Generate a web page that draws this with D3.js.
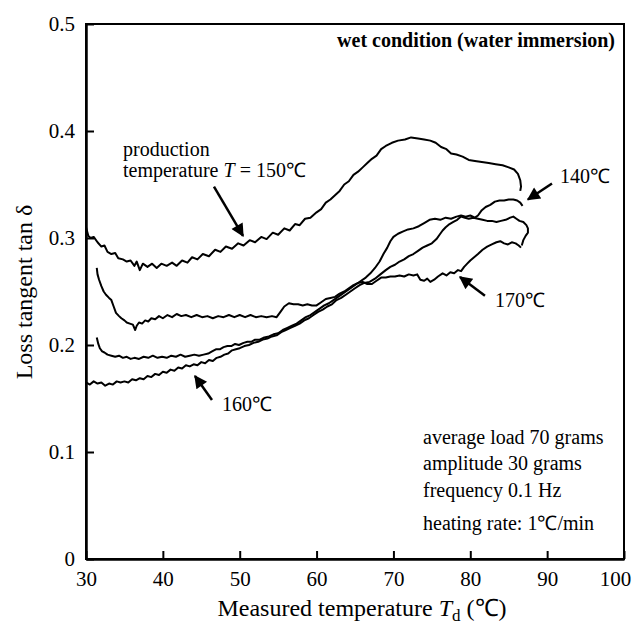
<!DOCTYPE html>
<html>
<head>
<meta charset="utf-8">
<script src="https://cdn.jsdelivr.net/npm/d3@7"></script>
<style>
  body { margin: 0; background: #fff; }
  text { font-family: "Liberation Serif", "Times New Roman", serif; fill: #000; }
</style>
</head>
<body>
<script>
// tick values and labels
var xTicks = [30, 40, 50, 60, 70, 80, 90, 100];
var yTicks = [0, 0.1, 0.2, 0.3, 0.4, 0.5];
var yTickLabels = ["0", "0.1", "0.2", "0.3", "0.4", "0.5"];

// curves: [temperature, tan delta]
var curve150 = [[30.0,0.310],[30.3,0.302],[30.6,0.300],[31.0,0.301],[31.5,0.296],[32.0,0.292],[32.4,0.293],[32.8,0.287],
  [33.3,0.285],[33.8,0.286],[34.2,0.281],[34.8,0.280],[35.3,0.278],[35.8,0.279],[36.3,0.274],[36.6,0.278],[37.0,0.270],
  [37.4,0.276],[38.0,0.273],[38.6,0.276],[39.2,0.272],[39.8,0.276],[40.5,0.274],[41.2,0.277],[41.8,0.274],[42.5,0.279],
  [43.2,0.277],[43.8,0.282],[44.5,0.280],[45.2,0.285],[46.0,0.283],[46.8,0.289],[47.5,0.287],[48.2,0.292],[49.0,0.290],
  [49.8,0.295],[50.5,0.293],[51.3,0.298],[52.0,0.296],[52.8,0.301],[53.5,0.299],[54.3,0.305],[55.0,0.303],[55.8,0.309],
  [56.5,0.307],[57.2,0.313],[57.8,0.312],[58.5,0.318],[59.2,0.319],[60.0,0.324],[60.6,0.327],[61.2,0.333],[61.8,0.336],
  [62.4,0.340],[63.0,0.344],[63.6,0.350],[64.2,0.353],[64.8,0.359],[65.4,0.362],[66.0,0.366],[66.6,0.370],[67.2,0.374],
  [67.8,0.377],[68.4,0.383],[69.0,0.386],[69.8,0.389],[70.6,0.391],[71.5,0.392],[72.3,0.394],[73.2,0.393],[74.0,0.392],
  [74.8,0.391],[75.5,0.389],[76.2,0.385],[76.9,0.383],[77.5,0.379],[78.2,0.378],[79.0,0.376],[79.8,0.373],[80.6,0.372],
  [81.5,0.371],[82.4,0.370],[83.3,0.369],[84.2,0.368],[85.0,0.366],[85.7,0.364],[86.2,0.360],[86.5,0.354],[86.6,0.348],
  [86.5,0.344]];

var curve140 = [[31.4,0.207],[31.6,0.201],[31.8,0.197],[32.1,0.194],[32.4,0.193],[32.8,0.191],[33.3,0.190],[33.8,0.189],
  [34.3,0.190],[34.8,0.188],[35.3,0.189],[35.8,0.187],[36.3,0.188],[36.9,0.187],[37.5,0.189],[38.1,0.188],[38.7,0.190],
  [39.3,0.188],[39.9,0.189],[40.5,0.188],[41.1,0.190],[41.7,0.189],[42.3,0.191],[42.9,0.189],[43.5,0.190],[44.1,0.191],
  [44.7,0.190],[45.3,0.191],[45.9,0.192],[46.4,0.194],[46.9,0.196],[47.4,0.196],[47.9,0.198],[48.4,0.199],[48.9,0.199],
  [49.4,0.201],[49.9,0.200],[50.5,0.202],[51.0,0.203],[51.5,0.203],[52.0,0.205],[52.6,0.205],[53.2,0.207],[53.8,0.208],
  [54.4,0.210],[55.0,0.211],[55.6,0.214],[56.2,0.216],[56.8,0.218],[57.4,0.220],[58.0,0.223],[58.6,0.226],[59.2,0.228],
  [59.8,0.231],[60.4,0.234],[61.0,0.237],[61.6,0.239],[62.2,0.242],[62.8,0.245],[63.4,0.248],[64.0,0.251],[64.6,0.254],
  [65.2,0.257],[65.8,0.260],[66.4,0.263],[67.0,0.267],[67.6,0.272],[68.2,0.278],[68.7,0.285],[69.2,0.291],[69.6,0.297],
  [70.0,0.301],[70.6,0.304],[71.2,0.306],[71.9,0.308],[72.6,0.309],[73.3,0.311],[74.0,0.314],[74.7,0.317],[75.4,0.318],
  [76.1,0.317],[76.8,0.319],[77.5,0.318],[78.2,0.320],[78.8,0.321],[79.4,0.320],[80.0,0.321],[80.6,0.319],[81.0,0.321],
  [81.5,0.326],[82.0,0.329],[82.6,0.331],[83.2,0.334],[83.8,0.335],[84.4,0.335],[85.0,0.336],[85.6,0.336],[86.1,0.335],
  [86.5,0.333],[86.8,0.330]];

var curve160 = [[30.0,0.165],[30.5,0.163],[31.0,0.166],[31.5,0.164],[32.0,0.165],[32.5,0.162],[33.0,0.164],[33.5,0.163],
  [34.0,0.166],[34.5,0.165],[35.0,0.166],[35.5,0.165],[36.0,0.168],[36.5,0.167],[37.0,0.169],[37.5,0.168],[38.0,0.171],
  [38.5,0.170],[39.0,0.173],[39.5,0.172],[40.0,0.175],[40.5,0.174],[41.0,0.177],[41.5,0.176],[42.0,0.179],[42.5,0.178],
  [43.0,0.181],[43.5,0.180],[44.0,0.182],[44.5,0.181],[45.0,0.184],[45.5,0.183],[46.0,0.186],[46.5,0.185],[47.0,0.188],
  [47.5,0.189],[48.0,0.191],[48.5,0.192],[49.0,0.195],[49.5,0.196],[50.0,0.197],[50.6,0.199],[51.2,0.200],[51.8,0.202],
  [52.4,0.203],[53.0,0.205],[53.6,0.206],[54.2,0.208],[54.8,0.209],[55.4,0.212],[56.0,0.214],[56.6,0.216],[57.2,0.218],
  [57.8,0.220],[58.4,0.223],[59.0,0.225],[59.6,0.228],[60.2,0.231],[60.8,0.233],[61.4,0.236],[62.0,0.238],[62.6,0.242],
  [63.2,0.244],[63.8,0.247],[64.4,0.250],[65.0,0.253],[65.6,0.256],[66.2,0.258],[66.9,0.259],[67.6,0.262],[68.3,0.266],
  [69.0,0.270],[69.6,0.273],[70.2,0.275],[70.8,0.278],[71.4,0.280],[72.0,0.283],[72.6,0.285],[73.2,0.288],[73.8,0.291],
  [74.4,0.293],[75.0,0.295],[75.6,0.299],[76.0,0.303],[76.4,0.307],[76.8,0.310],[77.3,0.313],[77.8,0.315],[78.3,0.317],
  [78.8,0.320],[79.3,0.319],[79.8,0.318],[80.4,0.319],[81.0,0.318],[81.6,0.317],[82.2,0.316],[82.8,0.316],[83.4,0.315],
  [84.0,0.316],[84.6,0.317],[85.2,0.319],[85.6,0.320],[86.0,0.318],[86.4,0.316],[86.9,0.315],[87.3,0.312],[87.5,0.309],
  [87.5,0.305],[87.2,0.302],[86.9,0.298],[86.7,0.293]];

var curve170 = [[31.4,0.272],[31.5,0.266],[31.7,0.261],[32.0,0.255],[32.3,0.250],[32.6,0.247],[33.0,0.244],[33.3,0.242],
  [33.6,0.236],[33.9,0.230],[34.3,0.227],[34.6,0.225],[35.0,0.223],[35.3,0.221],[35.7,0.220],[36.1,0.219],[36.4,0.214],
  [36.6,0.218],[36.9,0.221],[37.3,0.220],[37.7,0.223],[38.1,0.222],[38.5,0.225],[39.0,0.224],[39.5,0.227],[40.0,0.225],
  [40.6,0.228],[41.2,0.226],[41.8,0.229],[42.4,0.227],[43.0,0.228],[43.7,0.226],[44.4,0.228],[45.1,0.226],[45.8,0.227],
  [46.5,0.225],[47.2,0.227],[47.9,0.226],[48.6,0.228],[49.3,0.226],[50.0,0.228],[50.7,0.226],[51.4,0.228],[52.1,0.226],
  [52.8,0.227],[53.5,0.226],[54.2,0.227],[54.8,0.226],[55.3,0.231],[55.8,0.236],[56.4,0.239],[57.0,0.238],[57.6,0.238],
  [58.2,0.237],[58.8,0.238],[59.4,0.237],[60.0,0.237],[60.6,0.240],[61.2,0.243],[61.8,0.244],[62.4,0.245],[63.0,0.248],
  [63.6,0.250],[64.2,0.253],[64.8,0.256],[65.4,0.258],[66.0,0.259],[66.6,0.257],[67.2,0.257],[67.8,0.260],[68.4,0.263],
  [69.0,0.263],[69.6,0.264],[70.2,0.264],[70.8,0.265],[71.4,0.264],[72.0,0.266],[72.6,0.265],[73.1,0.266],[73.5,0.261],
  [74.0,0.260],[74.4,0.262],[74.8,0.259],[75.3,0.261],[75.8,0.264],[76.4,0.267],[76.9,0.265],[77.4,0.268],[77.9,0.267],
  [78.4,0.270],[78.8,0.269],[79.2,0.273],[79.6,0.276],[80.0,0.279],[80.5,0.282],[81.0,0.285],[81.6,0.289],[82.2,0.292],
  [82.8,0.294],[83.4,0.296],[83.9,0.297],[84.4,0.295],[84.9,0.294],[85.4,0.296],[85.9,0.295],[86.3,0.293],[86.6,0.291]];

var curves = [curve150, curve140, curve160, curve170];

// arrows: [tail, tip] in data units
var arrows = [
  [[46.65, 0.348], [50.43, 0.302]],
  [[90.63, 0.351], [87.5, 0.336]],
  [[81.91, 0.246], [78.66, 0.2636]],
  [[46.39, 0.1486], [44.18, 0.171]]
];

var conditions = ["average load 70 grams", "amplitude 30 grams", "frequency 0.1 Hz", "heating rate: 1\u2103/min"];

var width = 633, height = 625;
var margin = {top: 24, right: 9, bottom: 66, left: 86};

var svg = d3.select("body").append("svg")
    .attr("width", width)
    .attr("height", height);

var x = d3.scaleLinear().domain([30, 100]).range([margin.left, width - margin.right]);
var y = d3.scaleLinear().domain([0, 0.5]).range([height - margin.bottom, margin.top]);

// frame
svg.append("rect")
    .attr("x", x(30)).attr("y", y(0.5))
    .attr("width", x(100) - x(30)).attr("height", y(0) - y(0.5))
    .attr("fill", "none").attr("stroke", "#000").attr("stroke-width", 2);

var xAxis = svg.append("g")
    .attr("transform", "translate(0," + y(0) + ")")
    .call(d3.axisBottom(x).tickValues(xTicks).tickSize(-8).tickSizeOuter(0).tickPadding(12));

var yAxis = svg.append("g")
    .attr("transform", "translate(" + x(30) + ",0)")
    .call(d3.axisLeft(y).tickValues(yTicks).tickSize(-8).tickSizeOuter(0).tickPadding(11)
      .tickFormat(function(d, i) { return yTickLabels[i]; }));

[xAxis, yAxis].forEach(function(g) {
  g.select(".domain").attr("stroke-width", 2.5);
  g.selectAll(".tick line").attr("stroke-width", 2);
  g.selectAll(".tick text")
      .style("font-family", "'Liberation Serif', 'Times New Roman', serif")
      .style("font-size", "21px");
});

// last x label sits against the page edge, as in the original
xAxis.selectAll(".tick text")
    .filter(function(d) { return d === 100; })
    .attr("dx", -9);

var line = d3.line()
    .x(function(d) { return x(d[0]); })
    .y(function(d) { return y(d[1]); });

svg.selectAll("path.curve")
    .data(curves)
  .enter().append("path")
    .attr("class", "curve")
    .attr("d", line)
    .attr("fill", "none")
    .attr("stroke", "#000")
    .attr("stroke-width", 2)
    .attr("stroke-linejoin", "round");

// arrows
svg.append("defs").append("marker")
    .attr("id", "head")
    .attr("viewBox", "0 0 10 10")
    .attr("refX", 9).attr("refY", 5)
    .attr("markerUnits", "userSpaceOnUse")
    .attr("markerWidth", 15).attr("markerHeight", 13)
    .attr("orient", "auto")
  .append("path")
    .attr("d", "M0,0L10,5L0,10Z")
    .attr("fill", "#000");

svg.selectAll("line.arrow")
    .data(arrows)
  .enter().append("line")
    .attr("class", "arrow")
    .attr("x1", function(d) { return x(d[0][0]); })
    .attr("y1", function(d) { return y(d[0][1]); })
    .attr("x2", function(d) { return x(d[1][0]); })
    .attr("y2", function(d) { return y(d[1][1]); })
    .attr("stroke", "#000")
    .attr("stroke-width", 2.5)
    .attr("marker-end", "url(#head)");

// labels
svg.append("text")
    .attr("x", 615).attr("y", 47)
    .attr("text-anchor", "end")
    .style("font-size", "20px").style("font-weight", "bold")
    .text("wet condition (water immersion)");

svg.append("text").attr("x", 123).attr("y", 156).style("font-size", "20px").text("production");
var t150 = svg.append("text").attr("x", 123).attr("y", 177).style("font-size", "20px");
t150.append("tspan").text("temperature ");
t150.append("tspan").style("font-style", "italic").text("T");
t150.append("tspan").text(" = 150\u2103");

svg.append("text").attr("x", 560).attr("y", 183).style("font-size", "20px").text("140\u2103");
svg.append("text").attr("x", 495).attr("y", 307).style("font-size", "20px").text("170\u2103");
svg.append("text").attr("x", 222).attr("y", 411).style("font-size", "20px").text("160\u2103");

svg.selectAll("text.cond")
    .data(conditions)
  .enter().append("text")
    .attr("class", "cond")
    .attr("x", 423)
    .attr("y", function(d, i) { return [444, 470, 497, 530][i]; })
    .style("font-size", "20px")
    .text(function(d) { return d; });

// axis titles
var xt = svg.append("text")
    .attr("x", 362).attr("y", 616)
    .attr("text-anchor", "middle")
    .style("font-size", "24px");
xt.append("tspan").text("Measured temperature ");
xt.append("tspan").style("font-style", "italic").text("T");
xt.append("tspan").attr("dy", 5).style("font-size", "17px").text("d");
xt.append("tspan").attr("dy", -5).text(" (\u2103)");

svg.append("text")
    .attr("transform", "translate(32,292) rotate(-90)")
    .attr("text-anchor", "middle")
    .style("font-size", "24px")
    .text("Loss tangent tan \u03b4");
</script>
</body>
</html>
